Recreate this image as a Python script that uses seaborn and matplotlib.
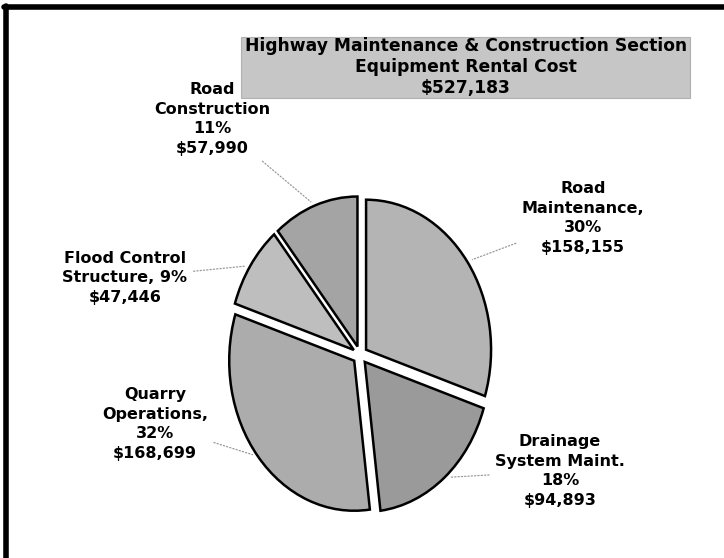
import numpy as np
import matplotlib
matplotlib.use("Agg")
import matplotlib.pyplot as plt
import seaborn as sns
from matplotlib.patches import Rectangle
from matplotlib.lines import Line2D

# ---- DATA ----
categories = ["Road Maintenance", "Drainage System Maint.", "Quarry Operations",
              "Flood Control Structure", "Road Construction"]
costs = [158155, 94893, 168699, 47446, 57990]
percents = [30, 18, 32, 9, 11]
label_texts = [
    "Road\nMaintenance,\n30%\n$158,155",
    "Drainage\nSystem Maint.\n18%\n$94,893",
    "Quarry\nOperations,\n32%\n$168,699",
    "Flood Control\nStructure, 9%\n$47,446",
    "Road\nConstruction\n11%\n$57,990",
]
total_cost = "$527,183"
title_lines = ["Highway Maintenance & Construction Section",
               "Equipment Rental Cost", total_cost]

# ---- STYLE ----
W, H = 724, 558
sns.set_style("white")
plt.rcParams["font.family"] = ["DejaVu Sans"]
plt.rcParams["text.color"] = "black"

wedge_colors = ["#b4b4b4", "#9a9a9a", "#acacac", "#bebebe", "#a4a4a4"]
label_pos_px = [(583, 218), (560, 471), (155, 424), (125, 278), (212, 119)]

fig = plt.figure(figsize=(W / 100, H / 100), dpi=100)
fig.patch.set_facecolor("white")


def fx(px):
    return px / W


def fy(py):
    return 1 - py / H


# frame (left and top edges)
fig.add_artist(Line2D([fx(6), fx(6)], [fy(6), 0], color="black", lw=4))
fig.add_artist(Line2D([fx(4), 1], [fy(7), fy(7)], color="black", lw=4))

# title box
fig.add_artist(Rectangle((fx(241), fy(98)), fx(690) - fx(241), fy(37) - fy(98),
                         transform=fig.transFigure, facecolor="#c6c6c6",
                         edgecolor="#b0b0b0", lw=0.8))
fig.text(fx(466), fy(67), "\n".join(title_lines), ha="center", va="center",
         fontsize=12.3, fontweight="bold", linespacing=1.22, color="black")

# ---- PIE ----
cx, cy = 360, 355
rx, ry = 125, 150
lim = 1.15
ax = fig.add_axes([fx(cx - lim * rx), fy(cy + lim * ry),
                   2 * lim * rx / W, 2 * lim * ry / H])
explode = [0.06] * len(costs)
wedges, _ = ax.pie(costs, startangle=90, counterclock=False, explode=explode,
                   colors=wedge_colors,
                   wedgeprops=dict(edgecolor="black", linewidth=1.8))
ax.set_xlim(-lim, lim)
ax.set_ylim(-lim, lim)
ax.set_aspect("auto")
ax.axis("off")

# labels with dotted leader lines
for w, txt, (px, py) in zip(wedges, label_texts, label_pos_px):
    mid = np.deg2rad((w.theta1 + w.theta2) / 2)
    r = 1.06
    ax.annotate(txt, xy=(r * np.cos(mid), r * np.sin(mid)), xycoords="data",
                xytext=(fx(px), fy(py)), textcoords="figure fraction",
                ha="center", va="center", fontsize=11.5, fontweight="bold",
                linespacing=1.4, color="black",
                arrowprops=dict(arrowstyle="-", linestyle=":", color="#999999",
                                lw=0.9, shrinkB=4))

fig.savefig("out.png", dpi=100)
